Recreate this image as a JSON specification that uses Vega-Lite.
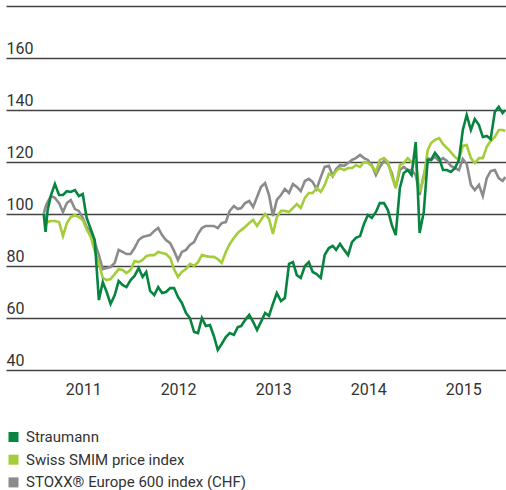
{
  "$schema": "https://vega.github.io/schema/vega-lite/v6.json",
  "autosize": {"type": "none"},
  "width": 500,
  "height": 364,
  "padding": {"left": 6, "top": 6, "right": 0, "bottom": 120},
  "background": "white",
  "config": {
    "view": {"stroke": null},
    "font": "Roboto",
    "axis": {"labelFont": "Roboto", "labelColor": "#333333", "labelFontSize": 16}
  },
  "data": {
    "values": [
      {"date": "2011-02-01", "straumann": 100, "smim": 100, "stoxx": 100},
      {"date": "2011-02-08", "straumann": 93.1, "smim": 98.8, "stoxx": 102.7},
      {"date": "2011-02-16", "straumann": 101.5, "smim": 96.9, "stoxx": 104.6},
      {"date": "2011-03-01", "straumann": 107.3, "smim": 97.3, "stoxx": 106.9},
      {"date": "2011-03-16", "straumann": 111.5, "smim": 97.3, "stoxx": 106.2},
      {"date": "2011-04-01", "straumann": 107.3, "smim": 96.9, "stoxx": 104.2},
      {"date": "2011-04-16", "straumann": 107.3, "smim": 91.5, "stoxx": 100.8},
      {"date": "2011-05-01", "straumann": 108.8, "smim": 96.5, "stoxx": 104.2},
      {"date": "2011-05-16", "straumann": 108.5, "smim": 98.8, "stoxx": 105.4},
      {"date": "2011-06-01", "straumann": 109.2, "smim": 99.6, "stoxx": 101.9},
      {"date": "2011-06-16", "straumann": 106.9, "smim": 98.8, "stoxx": 101.2},
      {"date": "2011-07-01", "straumann": 107.7, "smim": 97.7, "stoxx": 98.5},
      {"date": "2011-07-16", "straumann": 98.5, "smim": 94.2, "stoxx": 95.0},
      {"date": "2011-08-01", "straumann": 94.2, "smim": 91.2, "stoxx": 93.1},
      {"date": "2011-08-16", "straumann": 90.0, "smim": 85.8, "stoxx": 89.2},
      {"date": "2011-09-01", "straumann": 66.9, "smim": 81.2, "stoxx": 84.2},
      {"date": "2011-09-16", "straumann": 73.8, "smim": 75.4, "stoxx": 78.8},
      {"date": "2011-10-01", "straumann": 70.0, "smim": 74.6, "stoxx": 79.2},
      {"date": "2011-10-16", "straumann": 65.4, "smim": 75.0, "stoxx": 79.6},
      {"date": "2011-11-01", "straumann": 68.8, "smim": 76.9, "stoxx": 81.2},
      {"date": "2011-11-16", "straumann": 74.2, "smim": 78.8, "stoxx": 86.2},
      {"date": "2011-12-01", "straumann": 72.7, "smim": 78.5, "stoxx": 85.4},
      {"date": "2011-12-16", "straumann": 71.9, "smim": 77.3, "stoxx": 84.6},
      {"date": "2012-01-01", "straumann": 74.6, "smim": 78.5, "stoxx": 84.6},
      {"date": "2012-01-16", "straumann": 76.2, "smim": 81.9, "stoxx": 86.9},
      {"date": "2012-02-01", "straumann": 79.2, "smim": 81.5, "stoxx": 90.0},
      {"date": "2012-02-16", "straumann": 75.8, "smim": 82.3, "stoxx": 91.2},
      {"date": "2012-03-01", "straumann": 77.7, "smim": 83.8, "stoxx": 91.5},
      {"date": "2012-03-16", "straumann": 70.4, "smim": 84.2, "stoxx": 91.9},
      {"date": "2012-04-01", "straumann": 68.8, "smim": 84.2, "stoxx": 93.5},
      {"date": "2012-04-16", "straumann": 71.9, "smim": 85.4, "stoxx": 94.6},
      {"date": "2012-05-01", "straumann": 69.6, "smim": 85.0, "stoxx": 91.9},
      {"date": "2012-05-16", "straumann": 70.0, "smim": 84.6, "stoxx": 90.0},
      {"date": "2012-06-01", "straumann": 71.5, "smim": 83.1, "stoxx": 88.8},
      {"date": "2012-06-16", "straumann": 71.5, "smim": 78.8, "stoxx": 85.8},
      {"date": "2012-07-01", "straumann": 68.1, "smim": 75.8, "stoxx": 82.3},
      {"date": "2012-07-16", "straumann": 65.8, "smim": 77.7, "stoxx": 85.4},
      {"date": "2012-08-01", "straumann": 61.9, "smim": 78.8, "stoxx": 86.2},
      {"date": "2012-08-16", "straumann": 60.0, "smim": 80.8, "stoxx": 88.1},
      {"date": "2012-09-01", "straumann": 54.6, "smim": 80.0, "stoxx": 89.2},
      {"date": "2012-09-16", "straumann": 54.2, "smim": 81.5, "stoxx": 92.3},
      {"date": "2012-10-01", "straumann": 60.0, "smim": 84.2, "stoxx": 94.6},
      {"date": "2012-10-16", "straumann": 56.9, "smim": 83.8, "stoxx": 95.4},
      {"date": "2012-11-01", "straumann": 57.3, "smim": 83.5, "stoxx": 95.4},
      {"date": "2012-11-16", "straumann": 53.1, "smim": 83.5, "stoxx": 95.4},
      {"date": "2012-12-01", "straumann": 47.7, "smim": 82.7, "stoxx": 94.6},
      {"date": "2012-12-16", "straumann": 50.0, "smim": 81.2, "stoxx": 96.5},
      {"date": "2013-01-01", "straumann": 52.7, "smim": 85.4, "stoxx": 96.9},
      {"date": "2013-01-16", "straumann": 54.2, "smim": 88.5, "stoxx": 101.2},
      {"date": "2013-02-01", "straumann": 53.5, "smim": 90.8, "stoxx": 103.1},
      {"date": "2013-02-16", "straumann": 56.5, "smim": 92.7, "stoxx": 101.9},
      {"date": "2013-03-01", "straumann": 56.9, "smim": 93.8, "stoxx": 102.3},
      {"date": "2013-03-16", "straumann": 59.2, "smim": 95.0, "stoxx": 104.2},
      {"date": "2013-04-01", "straumann": 61.2, "smim": 96.5, "stoxx": 105.0},
      {"date": "2013-04-16", "straumann": 58.5, "smim": 97.7, "stoxx": 102.7},
      {"date": "2013-05-01", "straumann": 55.4, "smim": 95.4, "stoxx": 106.5},
      {"date": "2013-05-16", "straumann": 58.5, "smim": 97.7, "stoxx": 110.4},
      {"date": "2013-06-01", "straumann": 61.9, "smim": 100.0, "stoxx": 111.9},
      {"date": "2013-06-16", "straumann": 60.8, "smim": 98.1, "stoxx": 107.3},
      {"date": "2013-07-01", "straumann": 65.4, "smim": 92.3, "stoxx": 99.2},
      {"date": "2013-07-16", "straumann": 69.6, "smim": 98.8, "stoxx": 105.4},
      {"date": "2013-08-01", "straumann": 66.5, "smim": 101.2, "stoxx": 107.3},
      {"date": "2013-08-16", "straumann": 67.7, "smim": 101.2, "stoxx": 109.6},
      {"date": "2013-09-01", "straumann": 80.8, "smim": 100.8, "stoxx": 108.1},
      {"date": "2013-09-16", "straumann": 81.5, "smim": 102.3, "stoxx": 111.5},
      {"date": "2013-10-01", "straumann": 76.5, "smim": 103.8, "stoxx": 110.4},
      {"date": "2013-10-16", "straumann": 75.4, "smim": 102.3, "stoxx": 108.8},
      {"date": "2013-11-01", "straumann": 80.0, "smim": 106.2, "stoxx": 112.7},
      {"date": "2013-11-16", "straumann": 81.5, "smim": 108.1, "stoxx": 113.5},
      {"date": "2013-12-01", "straumann": 77.7, "smim": 108.1, "stoxx": 112.3},
      {"date": "2013-12-16", "straumann": 76.9, "smim": 110.0, "stoxx": 109.6},
      {"date": "2014-01-01", "straumann": 75.4, "smim": 108.5, "stoxx": 114.2},
      {"date": "2014-01-16", "straumann": 84.2, "smim": 111.2, "stoxx": 118.1},
      {"date": "2014-02-01", "straumann": 86.9, "smim": 115.4, "stoxx": 118.5},
      {"date": "2014-02-16", "straumann": 87.7, "smim": 114.6, "stoxx": 114.6},
      {"date": "2014-03-01", "straumann": 86.2, "smim": 116.5, "stoxx": 117.3},
      {"date": "2014-03-16", "straumann": 88.5, "smim": 117.7, "stoxx": 118.8},
      {"date": "2014-04-01", "straumann": 86.2, "smim": 116.9, "stoxx": 118.5},
      {"date": "2014-04-16", "straumann": 84.2, "smim": 117.7, "stoxx": 119.6},
      {"date": "2014-05-01", "straumann": 89.2, "smim": 117.7, "stoxx": 120.8},
      {"date": "2014-05-16", "straumann": 90.8, "smim": 118.8, "stoxx": 121.5},
      {"date": "2014-06-01", "straumann": 91.5, "smim": 118.1, "stoxx": 122.7},
      {"date": "2014-06-16", "straumann": 96.2, "smim": 120.0, "stoxx": 121.5},
      {"date": "2014-07-01", "straumann": 99.6, "smim": 119.6, "stoxx": 120.8},
      {"date": "2014-07-16", "straumann": 98.5, "smim": 118.5, "stoxx": 118.8},
      {"date": "2014-08-01", "straumann": 100.8, "smim": 116.2, "stoxx": 115.0},
      {"date": "2014-08-16", "straumann": 104.2, "smim": 120.8, "stoxx": 118.1},
      {"date": "2014-09-01", "straumann": 104.2, "smim": 121.5, "stoxx": 120.4},
      {"date": "2014-09-16", "straumann": 101.5, "smim": 120.0, "stoxx": 119.2},
      {"date": "2014-10-01", "straumann": 95.8, "smim": 114.6, "stoxx": 115.8},
      {"date": "2014-10-16", "straumann": 91.9, "smim": 110.0, "stoxx": 110.0},
      {"date": "2014-11-01", "straumann": 110.0, "smim": 118.8, "stoxx": 116.9},
      {"date": "2014-11-16", "straumann": 115.8, "smim": 119.6, "stoxx": 118.1},
      {"date": "2014-12-01", "straumann": 116.9, "smim": 121.5, "stoxx": 116.9},
      {"date": "2014-12-16", "straumann": 115.0, "smim": 120.0, "stoxx": 116.9},
      {"date": "2015-01-01", "straumann": 127.7, "smim": 120.0, "stoxx": 115.0},
      {"date": "2015-01-16", "straumann": 92.7, "smim": 108.5, "stoxx": 107.3},
      {"date": "2015-02-01", "straumann": 100.8, "smim": 113.8, "stoxx": 115.0},
      {"date": "2015-02-16", "straumann": 120.8, "smim": 124.6, "stoxx": 121.5},
      {"date": "2015-03-01", "straumann": 120.8, "smim": 127.3, "stoxx": 120.8},
      {"date": "2015-03-16", "straumann": 123.5, "smim": 128.5, "stoxx": 121.9},
      {"date": "2015-04-01", "straumann": 121.5, "smim": 129.2, "stoxx": 120.4},
      {"date": "2015-04-16", "straumann": 116.9, "smim": 126.9, "stoxx": 121.5},
      {"date": "2015-05-01", "straumann": 116.9, "smim": 125.4, "stoxx": 120.4},
      {"date": "2015-05-16", "straumann": 116.2, "smim": 123.8, "stoxx": 118.5},
      {"date": "2015-06-01", "straumann": 117.7, "smim": 121.9, "stoxx": 117.7},
      {"date": "2015-06-16", "straumann": 120.8, "smim": 120.8, "stoxx": 116.9},
      {"date": "2015-07-01", "straumann": 132.3, "smim": 126.2, "stoxx": 121.2},
      {"date": "2015-07-16", "straumann": 138.1, "smim": 126.5, "stoxx": 119.2},
      {"date": "2015-08-01", "straumann": 132.3, "smim": 121.5, "stoxx": 111.2},
      {"date": "2015-08-16", "straumann": 136.5, "smim": 119.6, "stoxx": 109.2},
      {"date": "2015-09-01", "straumann": 134.2, "smim": 121.5, "stoxx": 111.2},
      {"date": "2015-09-16", "straumann": 129.6, "smim": 121.5, "stoxx": 106.9},
      {"date": "2015-10-01", "straumann": 130.0, "smim": 125.8, "stoxx": 113.8},
      {"date": "2015-10-16", "straumann": 128.8, "smim": 128.1, "stoxx": 116.5},
      {"date": "2015-11-01", "straumann": 139.2, "smim": 129.6, "stoxx": 116.9},
      {"date": "2015-11-16", "straumann": 141.2, "smim": 132.3, "stoxx": 113.8},
      {"date": "2015-12-01", "straumann": 138.8, "smim": 132.3, "stoxx": 112.7},
      {"date": "2015-12-11", "straumann": 140.0, "smim": 131.9, "stoxx": 114.2}
    ]
  },
  "encoding": {
    "x": {
      "field": "date",
      "type": "temporal",
      "scale": {
        "type": "utc",
        "domain": [
          {"year": 2010, "month": 9, "date": 9, "utc": true},
          {"year": 2015, "month": 12, "date": 14, "utc": true}
        ]
      },
      "axis": {
        "title": null,
        "domain": false,
        "ticks": false,
        "tickSize": 0,
        "grid": false,
        "values": [
          {"year": 2011, "month": 1, "date": 1, "utc": true},
          {"year": 2012, "month": 1, "date": 1, "utc": true},
          {"year": 2013, "month": 1, "date": 1, "utc": true},
          {"year": 2014, "month": 1, "date": 1, "utc": true},
          {"year": 2015, "month": 1, "date": 1, "utc": true}
        ],
        "format": "%Y",
        "labelOffset": 47.5,
        "labelAlign": "center",
        "labelBaseline": "alphabetic",
        "labelPadding": 24,
        "labelFlush": false,
        "labelOverlap": false
      }
    },
    "color": {
      "scale": {
        "domain": ["Straumann", "Swiss SMIM price index", "STOXX® Europe 600 index (CHF)"],
        "range": ["#07843f", "#a3cd39", "#8b8b8d"]
      },
      "legend": {
        "title": null,
        "orient": "none",
        "legendX": 0,
        "legendY": 423.5,
        "direction": "vertical",
        "padding": 0,
        "symbolType": "square",
        "symbolSize": 100,
        "symbolStrokeWidth": 0,
        "symbolOpacity": 1,
        "labelFont": "Roboto",
        "labelFontSize": 15,
        "labelColor": "#333333",
        "labelOffset": 5,
        "rowPadding": 6.7,
        "labelLimit": 400,
        "encode": {
          "symbols": {
            "update": {
              "fill": {"scale": "color", "field": "value"},
              "fillOpacity": {"value": 1},
              "strokeWidth": {"value": 0}
            }
          }
        }
      }
    }
  },
  "layer": [
    {
      "mark": {"type": "line", "strokeWidth": 2.6, "clip": true},
      "encoding": {
        "y": {
          "field": "stoxx",
          "type": "quantitative",
          "scale": {"domain": [40, 180], "nice": false, "zero": false},
          "axis": {
            "title": null,
            "domain": false,
            "ticks": false,
            "tickSize": 0,
            "values": [40, 60, 80, 100, 120, 140, 160, 180],
            "labelExpr": "datum.value == 180 ? '' : datum.label",
            "labelAlign": "left",
            "labelBaseline": "alphabetic",
            "labelPadding": 0,
            "labelOffset": -5,
            "labelFlush": false,
            "labelOverlap": false,
            "grid": true,
            "gridColor": "#444444",
            "gridWidth": 1.4,
            "gridOpacity": 1
          }
        },
        "color": {"datum": "STOXX® Europe 600 index (CHF)"}
      }
    },
    {
      "mark": {"type": "line", "strokeWidth": 2.6, "clip": true},
      "encoding": {
        "y": {"field": "smim", "type": "quantitative"},
        "color": {"datum": "Swiss SMIM price index"}
      }
    },
    {
      "mark": {"type": "line", "strokeWidth": 2.6, "clip": true},
      "encoding": {
        "y": {"field": "straumann", "type": "quantitative"},
        "color": {"datum": "Straumann"}
      }
    }
  ]
}
